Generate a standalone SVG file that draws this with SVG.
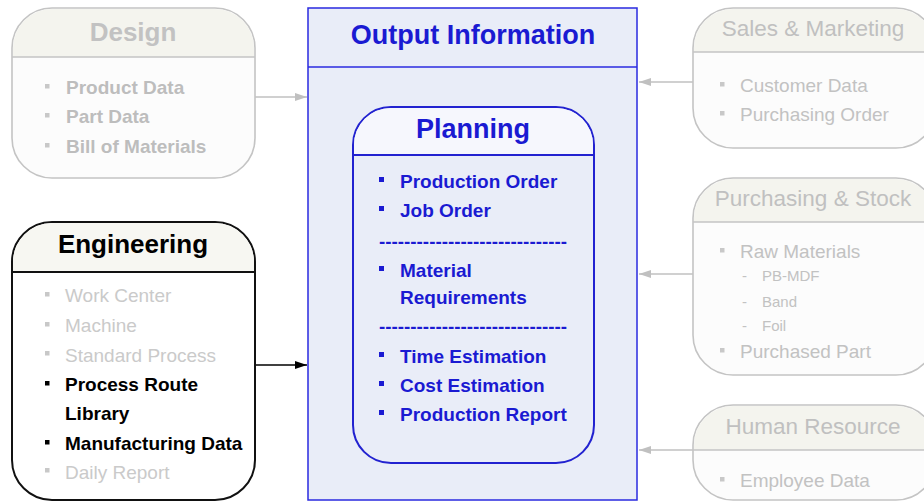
<svg xmlns="http://www.w3.org/2000/svg" width="924" height="502" viewBox="0 0 924 502">
<defs>
<style>
text{font-family:"Liberation Sans",Arial,sans-serif}
.gbox{fill:#fcfcfc;stroke:#c4c4c4;stroke-width:1.6}
.ghead{fill:#f4f4ee;stroke:none}
.gline{stroke:#c4c4c4;stroke-width:1.6}
.gtitle{fill:#c0c0c0;font-size:22.5px;text-anchor:middle}
.gitem{fill:#c2c2c2;font-size:19px}
.gbold{fill:#bdbdbd;font-size:19px;font-weight:bold}
.gsub{fill:#c2c2c2;font-size:15px}
.gbul{fill:#c8c8c8}
.kbox{fill:#ffffff;stroke:#111111;stroke-width:2}
.khead{fill:#f7f7f2;stroke:none}
.kline{stroke:#111111;stroke-width:2}
.kbold{fill:#000000;font-size:19px;font-weight:bold}
.blue{fill:#1a1ad2}
.btitle{fill:#1a1ad2;font-size:27px;font-weight:bold;text-anchor:middle}
.bitem{fill:#1a1ad2;font-size:19px;font-weight:bold}
.conn{fill:none;stroke-width:1.3}
</style>
<marker id="ag" viewBox="0 0 12 10" refX="12" refY="5" markerWidth="12" markerHeight="10" markerUnits="userSpaceOnUse" orient="auto"><path d="M0,1 L12,5 L0,9 Z" fill="#c0c0c0"/></marker>
<marker id="ak" viewBox="0 0 12 10" refX="12" refY="5" markerWidth="12" markerHeight="10" markerUnits="userSpaceOnUse" orient="auto"><path d="M0,1 L12,5 L0,9 Z" fill="#000000"/></marker>
</defs>
<rect width="924" height="502" fill="#ffffff"/>

<g id="connectors">
<line class="conn" x1="255" y1="97" x2="307" y2="97" stroke="#c0c0c0" marker-end="url(#ag)"/>
<line class="conn" x1="255" y1="365" x2="307" y2="365" stroke="#000000" marker-end="url(#ak)"/>
<line class="conn" x1="693" y1="82" x2="639" y2="82" stroke="#c0c0c0" marker-end="url(#ag)"/>
<line class="conn" x1="693" y1="274" x2="639" y2="274" stroke="#c0c0c0" marker-end="url(#ag)"/>
<line class="conn" x1="693" y1="450" x2="639" y2="450" stroke="#c0c0c0" marker-end="url(#ag)"/>
</g>

<g id="design">
<rect class="gbox" x="12" y="8" width="243" height="170" rx="40"/>
<path class="ghead" d="M13,57 L13,48 A39,39 0 0 1 52,9 L215,9 A39,39 0 0 1 254,48 L254,57 Z"/>
<line class="gline" x1="12" y1="57" x2="255" y2="57"/>
<text class="gtitle" x="133" y="41" style="font-size:26px;font-weight:bold;fill:#c2c2c2">Design</text>
<rect class="gbul" x="45" y="84" width="4.5" height="4.5"/>
<rect class="gbul" x="45" y="113" width="4.5" height="4.5"/>
<rect class="gbul" x="45" y="143" width="4.5" height="4.5"/>
<text class="gbold" x="66" y="94">Product Data</text>
<text class="gbold" x="66" y="123">Part Data</text>
<text class="gbold" x="66" y="153">Bill of Materials</text>
</g>

<g id="engineering">
<rect class="kbox" x="12" y="222" width="243" height="278" rx="40"/>
<path class="khead" d="M13,272 L13,262 A39,39 0 0 1 52,223 L215,223 A39,39 0 0 1 254,262 L254,272 Z"/>
<line class="kline" x1="12" y1="272" x2="255" y2="272"/>
<text x="133" y="253" style="fill:#000;font-size:26px;font-weight:bold;text-anchor:middle">Engineering</text>
<rect class="gbul" x="45" y="292" width="4.5" height="4.5"/>
<rect class="gbul" x="45" y="322" width="4.5" height="4.5"/>
<rect class="gbul" x="45" y="351" width="4.5" height="4.5"/>
<rect x="45" y="381" width="4.5" height="4.5" fill="#000"/>
<rect x="45" y="440" width="4.5" height="4.5" fill="#000"/>
<rect class="gbul" x="45" y="468" width="4.5" height="4.5"/>
<text class="gitem" x="65" y="302" style="fill:#cacaca">Work Center</text>
<text class="gitem" x="65" y="332" style="fill:#cacaca">Machine</text>
<text class="gitem" x="65" y="362" style="fill:#cacaca">Standard Process</text>
<text class="kbold" x="65" y="391">Process Route</text>
<text class="kbold" x="65" y="420">Library</text>
<text class="kbold" x="65" y="450">Manufacturing Data</text>
<text class="gitem" x="65" y="479" style="fill:#cacaca">Daily Report</text>
</g>

<g id="output-information">
<rect x="308" y="8" width="329" height="492" fill="#e9edf8" stroke="#2a2ae0" stroke-width="1.5"/>
<line x1="308" y1="67" x2="637" y2="67" stroke="#2a2ae0" stroke-width="1.5"/>
<text class="btitle" x="473" y="44">Output Information</text>
</g>

<g id="planning">
<rect x="353" y="107" width="241" height="356" rx="38" fill="#e9edf8" stroke="#2222d0" stroke-width="2"/>
<path d="M354,155 L354,145 A37,37 0 0 1 391,108 L556,108 A37,37 0 0 1 593,145 L593,155 Z" fill="#f6f7fd"/>
<line x1="353" y1="155" x2="594" y2="155" stroke="#2222d0" stroke-width="2"/>
<text class="btitle" x="473" y="138">Planning</text>
<rect class="blue" x="379" y="177" width="5" height="5"/>
<rect class="blue" x="379" y="206" width="5" height="5"/>
<rect class="blue" x="379" y="266" width="5" height="5"/>
<rect class="blue" x="379" y="352" width="5" height="5"/>
<rect class="blue" x="379" y="381" width="5" height="5"/>
<rect class="blue" x="379" y="410" width="5" height="5"/>
<text class="bitem" x="400" y="188">Production Order</text>
<text class="bitem" x="400" y="217">Job Order</text>
<text class="bitem" x="379" y="248" textLength="188" lengthAdjust="spacingAndGlyphs">------------------------------</text>
<text class="bitem" x="400" y="277">Material</text>
<text class="bitem" x="400" y="304">Requirements</text>
<text class="bitem" x="379" y="333" textLength="188" lengthAdjust="spacingAndGlyphs">------------------------------</text>
<text class="bitem" x="400" y="363">Time Estimation</text>
<text class="bitem" x="400" y="392">Cost Estimation</text>
<text class="bitem" x="400" y="421">Production Report</text>
</g>

<g id="sales-marketing">
<rect class="gbox" x="693" y="8" width="243" height="140" rx="40"/>
<path class="ghead" d="M694,52 L694,48 A39,39 0 0 1 733,9 L896,9 A39,39 0 0 1 935,48 L935,52 Z"/>
<line class="gline" x1="693" y1="52" x2="936" y2="52"/>
<text class="gtitle" x="813" y="36">Sales &amp; Marketing</text>
<rect class="gbul" x="720" y="82" width="4.5" height="4.5"/>
<rect class="gbul" x="720" y="111" width="4.5" height="4.5"/>
<text class="gitem" x="740" y="92">Customer Data</text>
<text class="gitem" x="740" y="121">Purchasing Order</text>
</g>

<g id="purchasing-stock">
<rect class="gbox" x="693" y="178" width="243" height="197" rx="40"/>
<path class="ghead" d="M694,222 L694,218 A39,39 0 0 1 733,179 L896,179 A39,39 0 0 1 935,218 L935,222 Z"/>
<line class="gline" x1="693" y1="222" x2="936" y2="222"/>
<text class="gtitle" x="813" y="206">Purchasing &amp; Stock</text>
<rect class="gbul" x="720" y="248" width="4.5" height="4.5"/>
<rect class="gbul" x="720" y="348" width="4.5" height="4.5"/>
<text class="gitem" x="740" y="258">Raw Materials</text>
<text class="gsub" x="742" y="281">-</text>
<text class="gsub" x="762" y="281">PB-MDF</text>
<text class="gsub" x="742" y="307">-</text>
<text class="gsub" x="762" y="307">Band</text>
<text class="gsub" x="742" y="331">-</text>
<text class="gsub" x="762" y="331">Foil</text>
<text class="gitem" x="740" y="358">Purchased Part</text>
</g>

<g id="human-resource">
<rect class="gbox" x="693" y="405" width="243" height="95" rx="40"/>
<path class="ghead" d="M694,450 L694,445 A39,39 0 0 1 733,406 L896,406 A39,39 0 0 1 935,445 L935,450 Z"/>
<line class="gline" x1="693" y1="450" x2="936" y2="450"/>
<text class="gtitle" x="813" y="434">Human Resource</text>
<rect class="gbul" x="720" y="477" width="4.5" height="4.5"/>
<text class="gitem" x="740" y="487">Employee Data</text>
</g>
</svg>
